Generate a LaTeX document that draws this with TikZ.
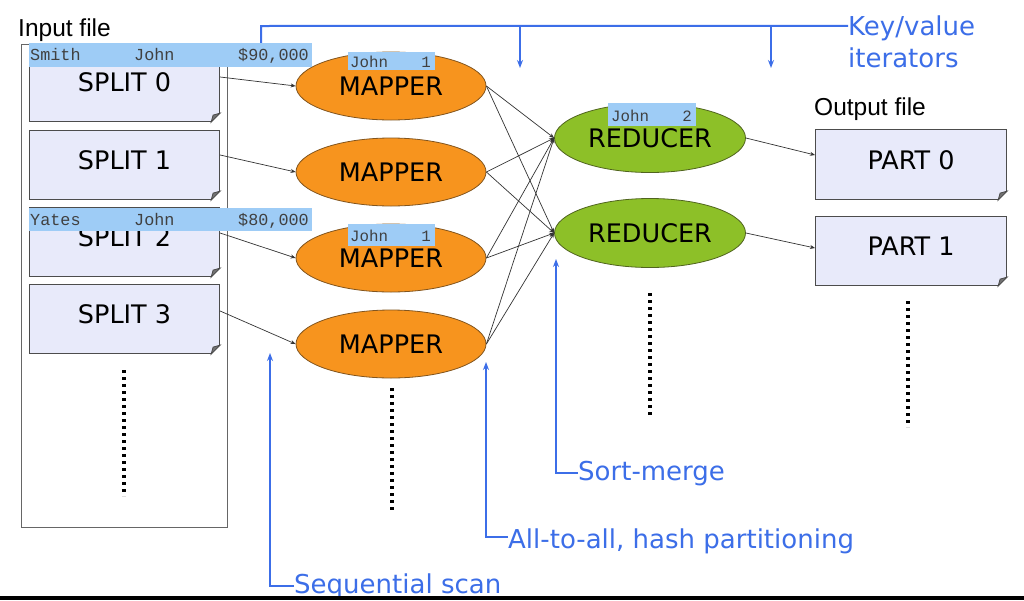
\documentclass[tikz,border=0pt]{standalone}
\usepackage{fontspec}
\usetikzlibrary{arrows.meta,calc,shapes.geometric}
\newfontfamily\dvf{DejaVu Sans}
\newfontfamily\lsf{Liberation Sans}
\newfontfamily\lmf{Liberation Mono}
\definecolor{kblue}{RGB}{60,110,232}
\definecolor{hlblue}{RGB}{158,204,246}
\definecolor{splitfill}{RGB}{232,234,250}
\definecolor{mapfill}{RGB}{247,148,30}
\definecolor{mapdraw}{RGB}{130,85,30}
\definecolor{redfill}{RGB}{141,192,40}
\definecolor{reddraw}{RGB}{80,100,30}
\tikzset{
  filebox/.style={draw=black!70, line width=1.1pt, fill=splitfill, rectangle, minimum width=190pt, minimum height=69pt, inner sep=0pt, anchor=north west, font=\dvf\fontsize{25.5}{26}\selectfont, text depth=10pt},
  mapbox/.style={ellipse, draw=mapdraw, line width=0.8pt, fill=mapfill, minimum width=190pt, minimum height=68pt, inner sep=0pt, font=\dvf\fontsize{25.5}{26}\selectfont},
  redbox/.style={ellipse, draw=reddraw, line width=0.8pt, fill=redfill, minimum width=191pt, minimum height=69pt, inner sep=0pt, font=\dvf\fontsize{25.5}{26}\selectfont},
  conn/.style={draw=black!80, line width=0.7pt, -{Stealth[length=5pt,width=4pt]}},
  bl/.style={draw=kblue, line width=2pt},
  bla/.style={bl, -{Stealth[length=8pt,width=6pt]}},
  blabel/.style={text=kblue, font=\dvf\fontsize{26}{28}\selectfont, inner sep=0pt, anchor=base west},
  hlbar/.style={fill=hlblue, rectangle, inner sep=0pt, anchor=north west},
  monotxt/.style={text=black!75, inner sep=0pt, font=\lmf\fontsize{16.8}{17}\selectfont},
  monosmall/.style={text=black!75, inner sep=0pt, font=\lmf\fontsize{15.8}{16}\selectfont},
  titletxt/.style={font=\lsf\fontsize{24.5}{26}\selectfont, inner sep=0pt, anchor=base west},
  dots/.style={line width=3.8pt, dash pattern=on 3.3pt off 3.7pt}
}
\newcommand{\foldcorner}[1]{%
  \fill[white] (#1.south east) -- ($(#1.south east)+(0,-9)$) -- ($(#1.south east)+(-9,0)$) -- cycle;
  \filldraw[fill=black!55, draw=black!70, line width=0.8pt] ($(#1.south east)+(0,-9)$) -- ($(#1.south east)+(-9,0)$) -- ($(#1.south east)+(-7,-7)$) -- cycle;
}
\begin{document}
\begin{tikzpicture}[x=1pt,y=-1pt]
\useasboundingbox (0,0) rectangle (1024,600);
\fill[white] (0,0) rectangle (1024,600);

% titles
\node[titletxt] (inlbl) at (18,36) {Input file};
\node[titletxt] (outlbl) at (814,115) {Output file};

% outer input file
\node[draw=black!60, line width=1pt, fill=white, rectangle, minimum width=206pt, minimum height=483pt, anchor=north west, inner sep=0pt] (infile) at (21,44) {};

% blue key/value lines (under the bars)
\node[blabel] (kv) at (848,35) {Key/value};
\node[blabel] (kv2) at (848,67) {iterators};
\coordinate (kvA) at (261,26);
\coordinate (kvB) at (261,46);
\coordinate (kvC) at (520,26);
\coordinate (kvD) at (520,68);
\coordinate (kvE) at (771,26);
\coordinate (kvF) at (771,68);
\draw[bl] ([yshift=2pt]kv.west) -- (kvA) -- (kvB);
\draw[bla] (kvC) -- (kvD);
\draw[bla] (kvE) -- (kvF);

% splits
\node[filebox] (s0) at (29,52) {SPLIT 0};
\node[filebox] (s1) at (29,130) {SPLIT 1};
\node[filebox] (s2) at (29,207) {SPLIT 2};
\node[filebox] (s3) at (29,284) {SPLIT 3};
\foldcorner{s0}\foldcorner{s1}\foldcorner{s2}\foldcorner{s3}

% parts
\node[filebox, minimum width=191pt, minimum height=70pt] (p0) at (815,129) {PART 0};
\node[filebox, minimum width=191pt, minimum height=69pt] (p1) at (815,216) {PART 1};
\foldcorner{p0}\foldcorner{p1}

% mappers and reducers
\node[mapbox] (m0) at (391,86) {MAPPER};
\node[mapbox] (m1) at (391,172) {MAPPER};
\node[mapbox] (m2) at (391,258) {MAPPER};
\node[mapbox] (m3) at (391,344) {MAPPER};
\node[redbox] (r0) at (650,138) {REDUCER};
\node[redbox] (r1) at (650,233) {REDUCER};

% connectors
\draw[conn] ($(s0.north east)+(0,25)$) -- (m0.west);
\draw[conn] ($(s1.north east)+(0,25)$) -- (m1.west);
\draw[conn] ($(s2.north east)+(0,26)$) -- (m2.west);
\draw[conn] ($(s3.north east)+(0,27)$) -- (m3.west);
\foreach \m in {m0,m1,m2,m3}{
  \draw[conn] (\m.east) -- (r0.west);
  \draw[conn] (\m.east) -- (r1.west);
}
\draw[conn] (r0.east) -- ($(p0.north west)+(0,26)$);
\draw[conn] (r1.east) -- ($(p1.north west)+(0,32)$);

% dotted continuation lines
\coordinate (d1a) at (124,370); \coordinate (d1b) at (124,496);
\coordinate (d2a) at (392,388); \coordinate (d2b) at (392,513);
\coordinate (d3a) at (650,293); \coordinate (d3b) at (650,418);
\coordinate (d4a) at (908,301); \coordinate (d4b) at (908,427);
\draw[dots] (d1a) -- (d1b);
\draw[dots] (d2a) -- (d2b);
\draw[dots] (d3a) -- (d3b);
\draw[dots] (d4a) -- (d4b);

% highlighted records
\node[hlbar, minimum width=283pt, minimum height=24pt] (hb0) at (29,43) {};
\node[monotxt, anchor=base west] (hb0a) at (30,60) {Smith};
\node[monotxt, anchor=base west] (hb0b) at (134,60) {John};
\node[monotxt, anchor=base east] (hb0c) at (309,60) {\$90,000};
\node[hlbar, minimum width=283pt, minimum height=23pt] (hb1) at (29,208) {};
\node[monotxt, anchor=base west] (hb1a) at (30,225) {Yates};
\node[monotxt, anchor=base west] (hb1b) at (134,225) {John};
\node[monotxt, anchor=base east] (hb1c) at (309,225) {\$80,000};
\node[hlbar, minimum width=87pt, minimum height=18pt] (hm0) at (348,52) {};
\node[monosmall, anchor=base west] (hm0a) at (350,67) {John};
\node[monosmall, anchor=base east] (hm0b) at (431,67) {1};
\node[hlbar, minimum width=87pt, minimum height=22pt] (hm2) at (348,224) {};
\node[monosmall, anchor=base west] (hm2a) at (350,241) {John};
\node[monosmall, anchor=base east] (hm2b) at (431,241) {1};
\node[hlbar, minimum width=88pt, minimum height=23pt] (hr0) at (608,103) {};
\node[monosmall, anchor=base west] (hr0a) at (611,121) {John};
\node[monosmall, anchor=base east] (hr0b) at (692,121) {2};

% blue annotation labels
\node[blabel] (sm) at (578,480) {Sort-merge};
\node[blabel] (ata) at (508,548) {All-to-all, hash partitioning};
\node[blabel] (seq) at (294,593) {Sequential scan};
\coordinate (smT) at (556,259);
\coordinate (ataT) at (486,362);
\coordinate (seqT) at (270,353);
\draw[bla] (sm.west) -| (smT);
\draw[bla] ([yshift=4pt]ata.west) -| (ataT);
\draw[bla] (seq.west) -| (seqT);

% bottom rule
\fill[black] (0,596) rectangle (1024,600);
\end{tikzpicture}
\end{document}
